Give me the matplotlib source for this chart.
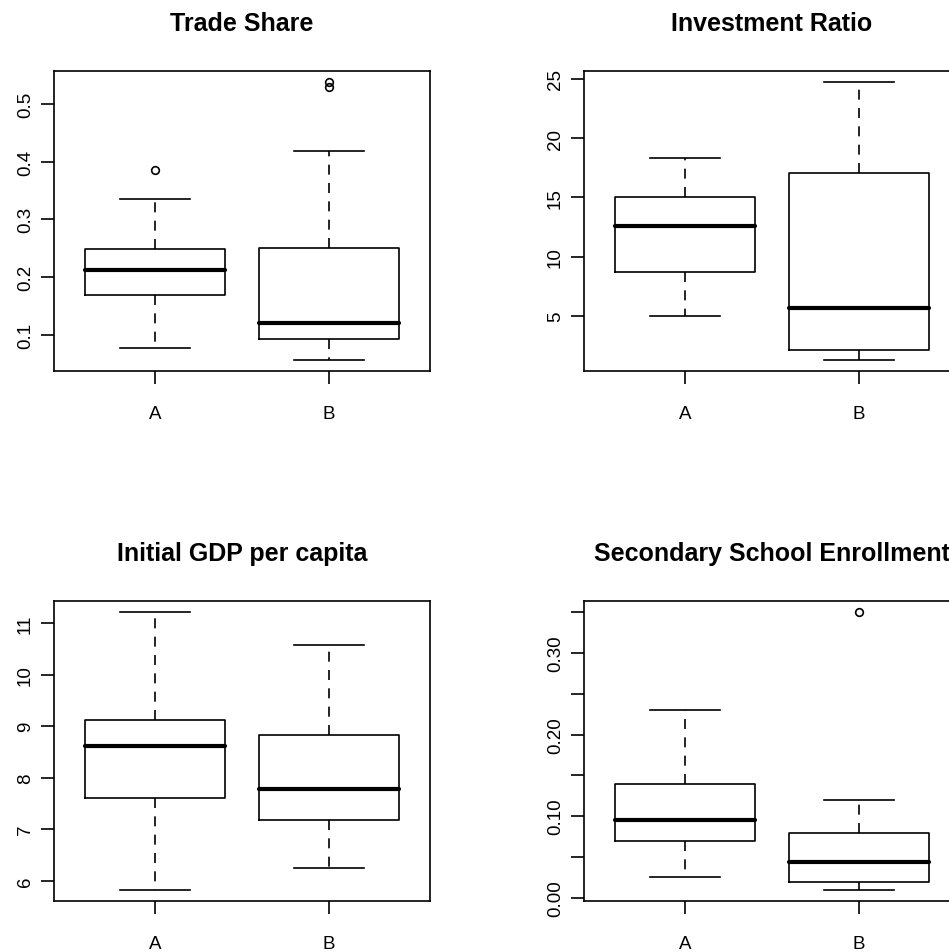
"""
Boxplots of four growth variables, groups A and B (R base-graphics look).
"""
import matplotlib
matplotlib.use("Agg")
import matplotlib.pyplot as plt

plt.rcParams["font.family"] = ["Liberation Sans", "DejaVu Sans"]

# ── data (five-number summaries) ─────────────────────────────────────────────
GROUPS = ["A", "B"]

TITLES = ["Trade Share", "Investment Ratio",
          "Initial GDP per capita", "Secondary School Enrollment"]

# per panel: [A, B]
WHISLO = [[0.077, 0.0565], [5.0, 1.31], [5.82, 6.25], [0.025, 0.0094]]
Q1     = [[0.169, 0.092], [8.75, 2.13], [7.60, 7.18], [0.0696, 0.0188]]
MED    = [[0.2125, 0.120], [12.6, 5.68], [8.62, 7.78], [0.0946, 0.0442]]
Q3     = [[0.248, 0.251], [15.0, 17.08], [9.13, 8.84], [0.139, 0.079]]
WHISHI = [[0.336, 0.418], [18.3, 24.72], [11.22, 10.58], [0.2305, 0.1195]]
FLIERS = [[[0.385], [0.530, 0.538]], [[], []], [[], []], [[], [0.3504]]]

YTICKS = [[0.1, 0.2, 0.3, 0.4, 0.5],
          [5, 10, 15, 20, 25],
          [6, 7, 8, 9, 10, 11],
          [0.0, 0.05, 0.10, 0.15, 0.20, 0.25, 0.30, 0.35]]
YTICKLABELS = [["0.1", "0.2", "0.3", "0.4", "0.5"],
               ["5", "10", "15", "20", "25"],
               ["6", "7", "8", "9", "10", "11"],
               ["0.00", "", "0.10", "", "0.20", "", "0.30", ""]]

# ── layout (pixels of a 949x953 canvas) ──────────────────────────────────────
W, H = 949, 953
AX_W, AX_H = 376, 300
POS = [(54, 72), (584, 72), (54, 602), (584, 602)]   # left, top


def r_range(lo, hi):
    pad = (hi - lo) * 0.04
    return lo - pad, hi + pad


fig = plt.figure(figsize=(W / 100, H / 100), dpi=100)

for i, (left, top) in enumerate(POS):
    ax = fig.add_axes([left / W, (H - top - AX_H) / H, AX_W / W, AX_H / H])
    stats = []
    for g in range(2):
        stats.append({"whislo": WHISLO[i][g], "q1": Q1[i][g], "med": MED[i][g],
                      "q3": Q3[i][g], "whishi": WHISHI[i][g],
                      "fliers": FLIERS[i][g], "label": GROUPS[g]})
    ax.bxp(stats, positions=[1, 2], widths=0.8, showfliers=True,
           boxprops=dict(color="black", lw=1.2),
           medianprops=dict(color="black", lw=3.0, solid_capstyle="round"),
           whiskerprops=dict(color="black", lw=1.2, linestyle=(0, (6, 5))),
           capprops=dict(color="black", lw=1.2),
           capwidths=0.4,
           flierprops=dict(marker="o", markersize=5.5, markerfacecolor="none",
                           markeredgecolor="black", markeredgewidth=1.2))

    lo = min(WHISLO[i] + sum(FLIERS[i], []))
    hi = max(WHISHI[i] + sum(FLIERS[i], []))
    ax.set_ylim(*r_range(lo, hi))
    ax.set_xlim(0.42, 2.58)

    ax.set_xticks([1, 2])
    ax.set_xticklabels(GROUPS, fontsize=13.5)
    ax.set_yticks(YTICKS[i])
    ax.set_yticklabels(YTICKLABELS[i], fontsize=13.5, rotation=90, va="center")
    ax.tick_params(axis="x", length=9.5, width=1.2, pad=15)
    ax.tick_params(axis="y", length=9.5, width=1.2, pad=5)
    for s in ax.spines.values():
        s.set_linewidth(1.2)

    ax.text(0.5, 1 + 48 / AX_H, TITLES[i], transform=ax.transAxes,
            ha="center", va="center", fontsize=18, fontweight="bold")

fig.savefig("out.png", dpi=100)
